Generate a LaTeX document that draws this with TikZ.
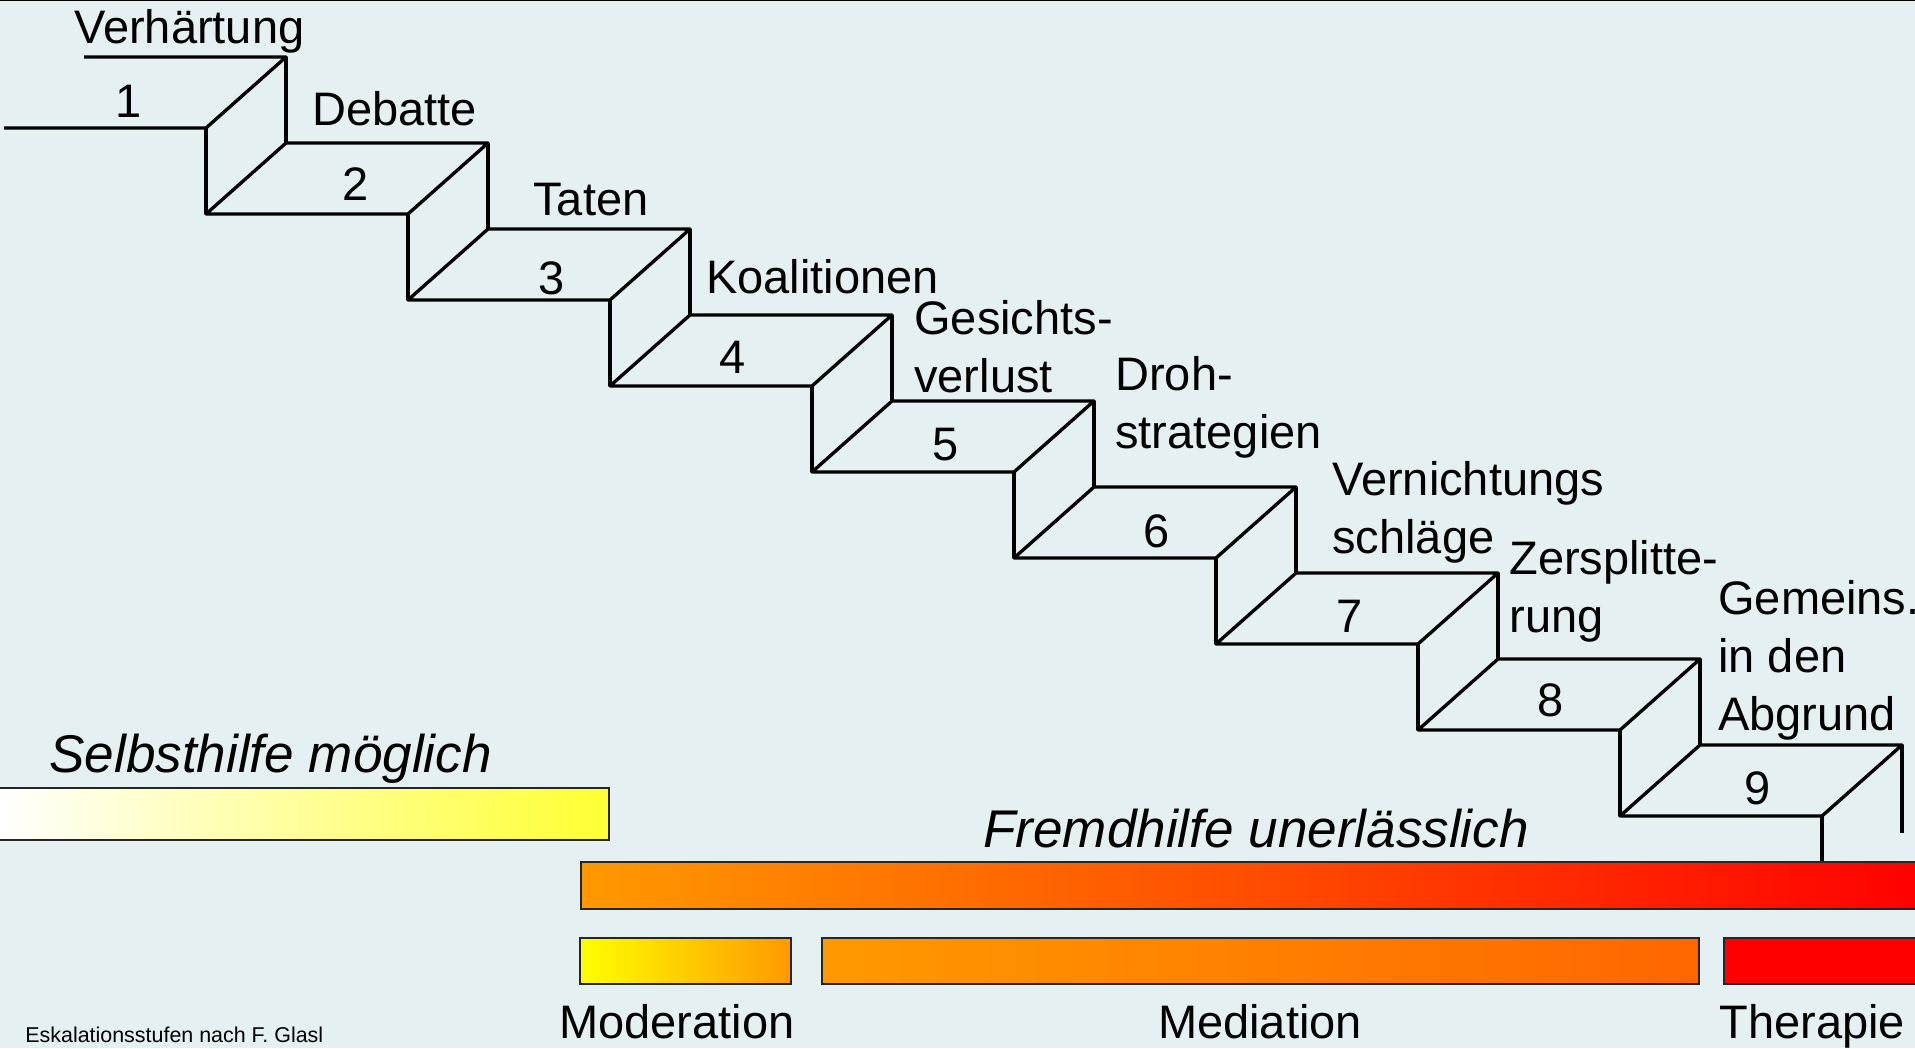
\documentclass[tikz,border=0pt]{standalone}
\usepackage{fontspec}
\setmainfont{Liberation Sans}

\definecolor{hinter}{RGB}{229,240,242}
\definecolor{gelb}{RGB}{255,255,51}
\definecolor{orangeA}{RGB}{255,153,0}
\definecolor{orangeB}{RGB}{255,102,0}

\tikzset{
  stair/.style={line width=1.9pt, line join=round},
  bar/.style={draw=black!85, line width=0.8pt},
  stufe/.style={font=\fontsize{26.75pt}{33pt}\selectfont, inner sep=0pt, align=left, anchor=base west},
  zahl/.style={font=\fontsize{26.75pt}{33pt}\selectfont, inner sep=0pt},
  hilfe/.style={font=\fontsize{30.2pt}{36pt}\selectfont\itshape, inner sep=0pt, anchor=base west},
  massn/.style={font=\fontsize{26.75pt}{33pt}\selectfont, inner sep=0pt, anchor=base}
}

\begin{document}
\begin{tikzpicture}[x=0.02cm, y=-0.02cm]
\useasboundingbox (0,0) rectangle (1915,1048);
\fill[hinter] (0,0) rectangle (1915,1048);
\draw[line width=0.6pt] (0,0.5) -- (1915,0.5);

% Stufen
\draw[stair] (4,128) -- (206,128) -- (286,57) -- (84,57);
\foreach \k in {2,...,9}{
  \pgfmathsetmacro\xr{206+202*(\k-1)}
  \pgfmathsetmacro\yr{128+86*(\k-1)}
  \draw[stair] (\xr-202,\yr) -- (\xr,\yr) -- (\xr+80,\yr-71) -- (\xr-122,\yr-71) -- cycle;
}
\foreach \k in {1,...,8}{
  \pgfmathsetmacro\xr{206+202*(\k-1)}
  \pgfmathsetmacro\yr{128+86*(\k-1)}
  \draw[stair] (\xr,\yr) -- (\xr,\yr+86) (\xr+80,\yr-71) -- (\xr+80,\yr+15);
}
\draw[stair] (1902,745) -- (1902,833);
\draw[stair] (1822,816) -- (1822,862);

% Stufennamen (y = Grundlinie der letzten Zeile)
\foreach \n/\x/\y/\t in {1/74/43/Verhärtung, 2/312/125/Debatte, 3/533/215/Taten,
    4/706/293/Koalitionen, 5/914/392/{Gesichts-\\verlust}, 6/1115/448/{Droh-\\strategien},
    7/1332/553/{Vernichtungs\\schläge}, 8/1509/632/{Zersplitte-\\rung},
    9/1718/730/{Gemeins.\\in den\\Abgrund}}
  \node (lbl\n) [stufe] at (\x,\y) {\t};

\foreach \n/\x/\y in {1/129/101, 2/356/184, 3/552/278, 4/733/357, 5/946/445,
    6/1157/531, 7/1350/616, 8/1551/700, 9/1758/788}
  \node (num\n) [zahl] at (\x,\y) {\n};

% Balken
\shadedraw[bar, left color=white, right color=gelb] (-2,788) rectangle (609,840);
\shadedraw[bar, left color=orangeA, right color=red] (581,862) rectangle (1925,909);
\shadedraw[bar, left color=yellow, right color=orangeA] (580,938) rectangle (791,984);
\shadedraw[bar, left color=orangeA, right color=orangeB] (822,938) rectangle (1699,984);
\filldraw[bar, fill=red] (1724,938) rectangle (1925,984);

\node (selbst) [hilfe] at (49,772) {Selbsthilfe möglich};
\node (fremd) [hilfe] at (983,847) {Fremdhilfe unerlässlich};
\node (moder) [massn] at (677,1038) {Moderation};
\node (medi) [massn] at (1260,1038) {Mediation};
\node (thera) [massn, anchor=base west] at (1719,1038) {Therapie};
\node (quelle) [font=\fontsize{12.2pt}{14pt}\selectfont, inner sep=0pt, anchor=base west] at (25,1042) {Eskalationsstufen nach F. Glasl};

\end{tikzpicture}
\end{document}
